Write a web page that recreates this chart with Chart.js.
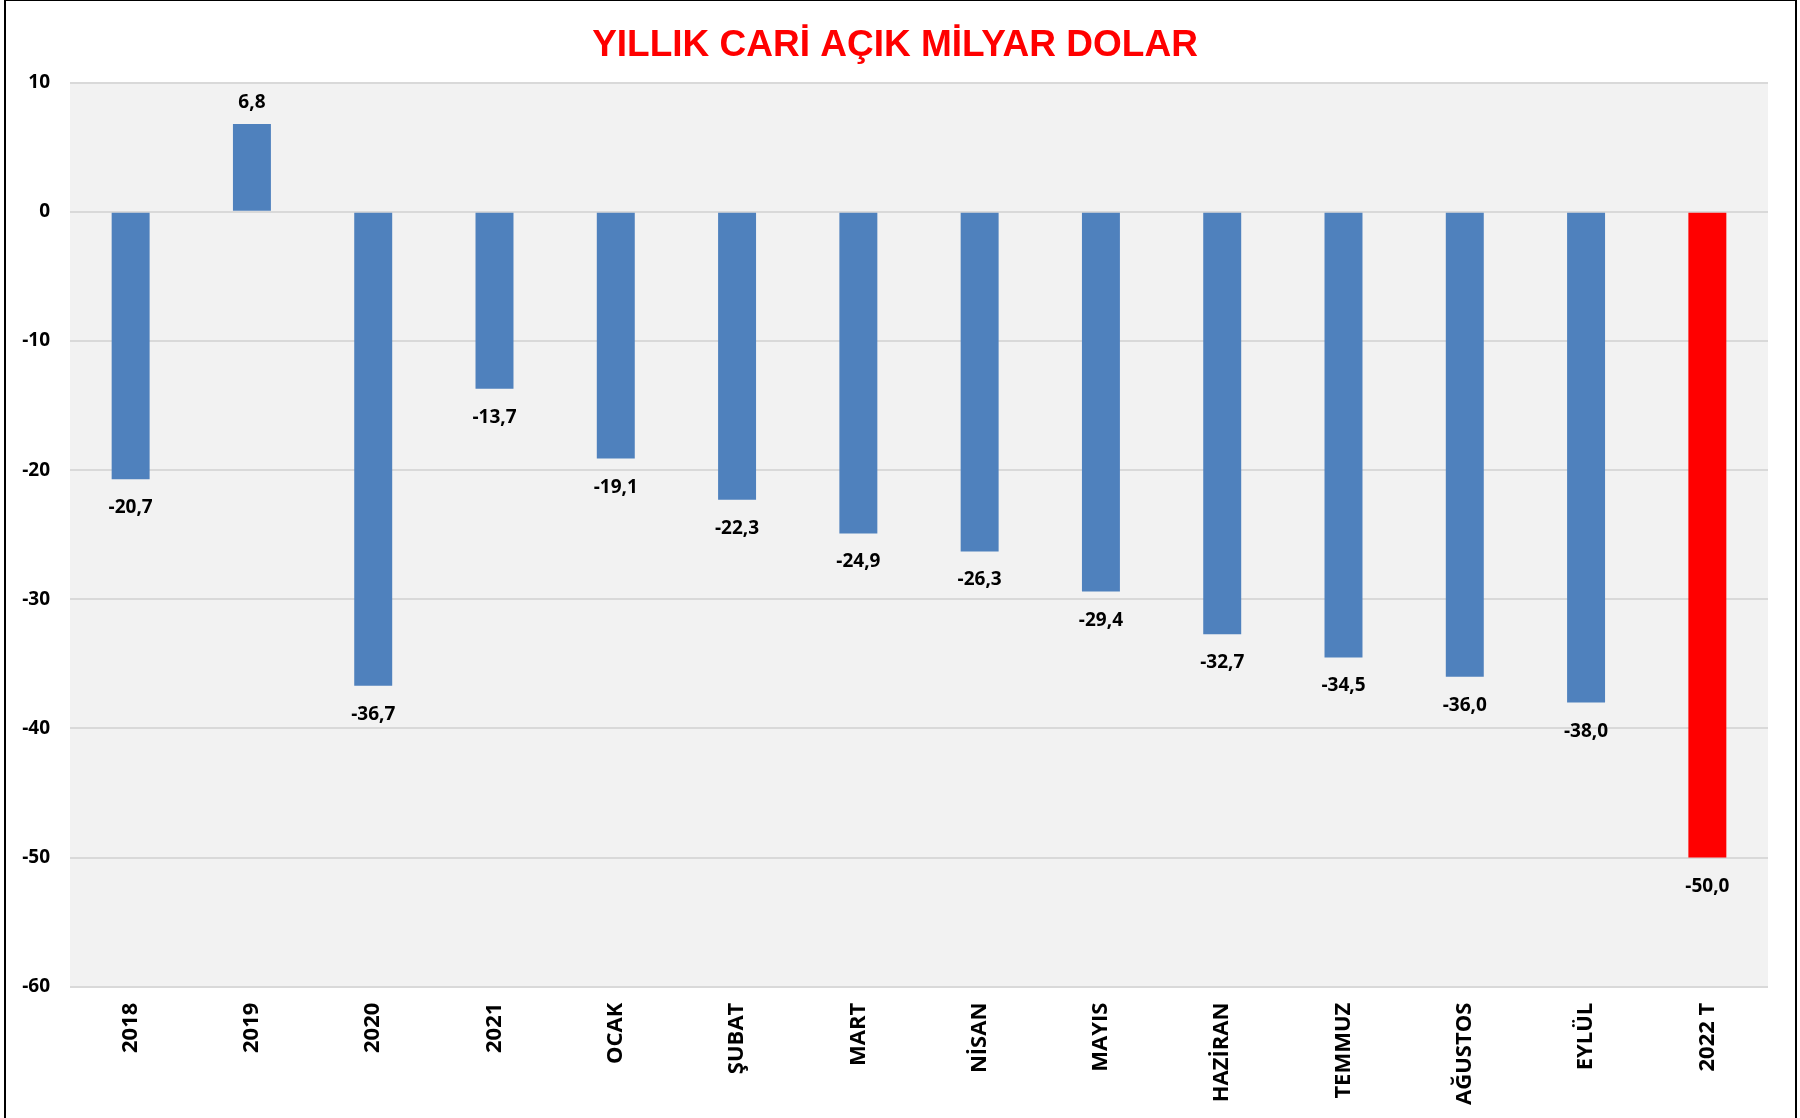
<!DOCTYPE html>
<html>
<head>
<meta charset="utf-8">
<script src="https://cdn.jsdelivr.net/npm/chart.js@4/dist/chart.umd.min.js"></script>
<style>
  html, body { margin: 0; padding: 0; background: #ffffff; }
  #wrap { position: relative; width: 1800px; height: 1118px; overflow: hidden; }
  #c { position: absolute; left: 0; top: 0; }
  #frame { position: absolute; left: 4px; top: 0; width: 1793px; height: 1130px; box-sizing: border-box;
           border-left: 2px solid #000; border-top: 1px solid #000; border-right: 2px solid #000; pointer-events: none; }
</style>
</head>
<body>
<div id="wrap">
  <canvas id="c" width="1800" height="1118"></canvas>
  <div id="frame"></div>
</div>
<script>
const titleText = 'YILLIK CARİ AÇIK MİLYAR DOLAR';
const categories = ['2018', '2019', '2020', '2021', 'OCAK', 'ŞUBAT', 'MART', 'NİSAN', 'MAYIS', 'HAZİRAN', 'TEMMUZ', 'AĞUSTOS', 'EYLÜL', '2022 T'];
const values = [-20.7, 6.8, -36.7, -13.7, -19.1, -22.3, -24.9, -26.3, -29.4, -32.7, -34.5, -36.0, -38.0, -50.0];
const highlighted = ['2022 T'];
const yMin = -60;
const yMax = 10;
const yStep = 10;

const BLUE = '#4f81bd';
const RED = '#ff0000';
const barColors = categories.map(c => highlighted.includes(c) ? RED : BLUE);

const LABEL_FONT = '"Open Sans", "DejaVu Sans", sans-serif';

const plotBg = {
  id: 'plotBg',
  beforeDraw(chart) {
    const { ctx, chartArea: a } = chart;
    ctx.save();
    ctx.fillStyle = '#f2f2f2';
    ctx.fillRect(a.left, a.top, a.right - a.left, a.bottom - a.top);
    ctx.restore();
  }
};

const valueLabels = {
  id: 'valueLabels',
  afterDatasetsDraw(chart) {
    const { ctx } = chart;
    const meta = chart.getDatasetMeta(0);
    const data = chart.data.datasets[0].data;
    ctx.save();
    ctx.font = 'bold 19px ' + LABEL_FONT;
    ctx.fillStyle = '#000000';
    ctx.textAlign = 'center';
    ctx.textBaseline = 'alphabetic';
    meta.data.forEach((el, i) => {
      const v = data[i];
      const txt = v.toFixed(1).replace('.', ',');
      const y = v >= 0 ? el.y - 16.5 : el.y + 34;
      ctx.fillText(txt, el.x, y);
    });
    ctx.restore();
  }
};

new Chart(document.getElementById('c'), {
  type: 'bar',
  data: {
    labels: categories,
    datasets: [{
      data: values,
      backgroundColor: barColors,
      borderWidth: 0,
      categoryPercentage: 1.0,
      barPercentage: 0.313
    }]
  },
  options: {
    responsive: false,
    animation: false,
    devicePixelRatio: 1,
    layout: { padding: { left: 22, right: 32, top: 0, bottom: 0 } },
    plugins: {
      legend: { display: false },
      tooltip: { enabled: false },
      title: {
        display: true,
        text: titleText,
        color: RED,
        font: { family: '"Liberation Sans", Arial, sans-serif', size: 37, weight: 'bold', lineHeight: 1.2 },
        padding: { top: 24, bottom: 14.3 }
      }
    },
    scales: {
      x: {
        grid: { display: false, drawTicks: false },
        border: { display: false },
        ticks: {
          color: '#000000',
          font: { family: LABEL_FONT, size: 22, weight: 'bold' },
          minRotation: 90,
          maxRotation: 90,
          padding: 16,
          autoSkip: false
        },
        afterFit(s) { s.height = 131.3; }
      },
      y: {
        min: yMin,
        max: yMax,
        grid: { color: '#d9d9d9', lineWidth: 2, drawTicks: false },
        border: { display: false },
        ticks: {
          stepSize: yStep,
          color: '#000000',
          font: { family: LABEL_FONT, size: 19, weight: 'bold' },
          padding: 20
        },
        afterFit(s) { s.width = 48; }
      }
    }
  },
  plugins: [plotBg, valueLabels]
});
</script>
</body>
</html>
